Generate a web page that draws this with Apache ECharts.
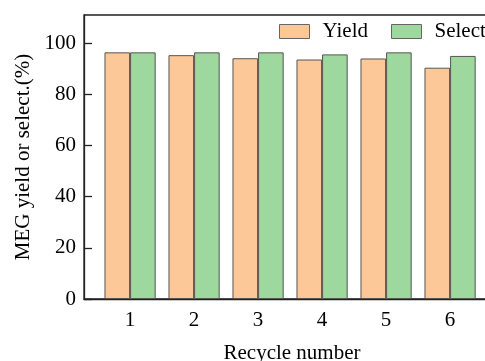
<!DOCTYPE html>
<html>
<head>
<meta charset="utf-8">
<script src="https://cdn.jsdelivr.net/npm/echarts@6/dist/echarts.min.js"></script>
<style>
html,body{margin:0;padding:0;background:#fff;}
#chart{width:485px;height:361px;}
</style>
</head>
<body>
<div id="chart"></div>
<script>
var categories = [1, 2, 3, 4, 5, 6];
var yieldValues = [96.4, 95.3, 94.1, 93.6, 94.0, 90.4];
var selectValues = [96.4, 96.4, 96.4, 95.6, 96.4, 95.0];
var yTicks = [0, 20, 40, 60, 80, 100];

var FONT = 'Liberation Serif';
var chart = echarts.init(document.getElementById('chart'), null, {renderer: 'canvas'});

function pairs(vals) {
  return categories.map(function (c, i) { return [c, vals[i]]; });
}

var legendText = {fontFamily: FONT, fontSize: 21, color: '#000', padding: [0, 0, 0, 8]};

chart.setOption({
  animation: false,
  backgroundColor: '#fff',
  grid: {
    left: 84, top: 15, width: 416, bottom: 62,
    outerBoundsMode: 'none', containLabel: false,
    show: true, borderColor: '#222', borderWidth: 1.3, backgroundColor: 'transparent'
  },
  legend: [
    {
      left: 279, top: 21, padding: 0, icon: 'rect',
      itemWidth: 30, itemHeight: 14,
      textStyle: legendText,
      data: [{name: 'Yield', itemStyle: {color: '#FDC898', borderColor: '#666', borderWidth: 1}}]
    },
    {
      left: 391, top: 21, padding: 0, icon: 'rect',
      itemWidth: 30, itemHeight: 14,
      textStyle: legendText,
      data: [{name: 'Select', itemStyle: {color: '#9FD89F', borderColor: '#666', borderWidth: 1}}]
    }
  ],
  xAxis: {
    type: 'value',
    min: 0.28, max: 6.78,
    name: 'Recycle number', nameLocation: 'middle', nameGap: 44,
    nameTextStyle: {fontFamily: FONT, fontSize: 21, color: '#000'},
    axisLine: {show: true, lineStyle: {color: '#222', width: 1.3}},
    axisTick: {show: false},
    splitLine: {show: false},
    axisLabel: {
      customValues: categories,
      fontFamily: FONT, fontSize: 21, color: '#000', margin: 11
    }
  },
  yAxis: {
    type: 'value',
    min: 0, max: 111, interval: 20,
    name: 'MEG yield or select.(%)', nameLocation: 'middle', nameGap: 47,
    nameTextStyle: {fontFamily: FONT, fontSize: 21, color: '#000'},
    axisLine: {show: true, lineStyle: {color: '#222', width: 1.3}},
    axisTick: {show: true, inside: true, length: 8, lineStyle: {color: '#222', width: 1.3}, customValues: yTicks},
    splitLine: {show: false},
    axisLabel: {
      customValues: yTicks,
      fontFamily: FONT, fontSize: 21, color: '#000', margin: 8
    }
  },
  series: [
    {
      name: 'Yield', type: 'bar', data: pairs(yieldValues),
      barWidth: 25.6, barGap: '0%',
      itemStyle: {color: '#FDC898', borderColor: '#555', borderWidth: 1}
    },
    {
      name: 'Select', type: 'bar', data: pairs(selectValues),
      barWidth: 25.6, barGap: '0%',
      itemStyle: {color: '#9FD89F', borderColor: '#555', borderWidth: 1}
    }
  ]
});
</script>
</body>
</html>
